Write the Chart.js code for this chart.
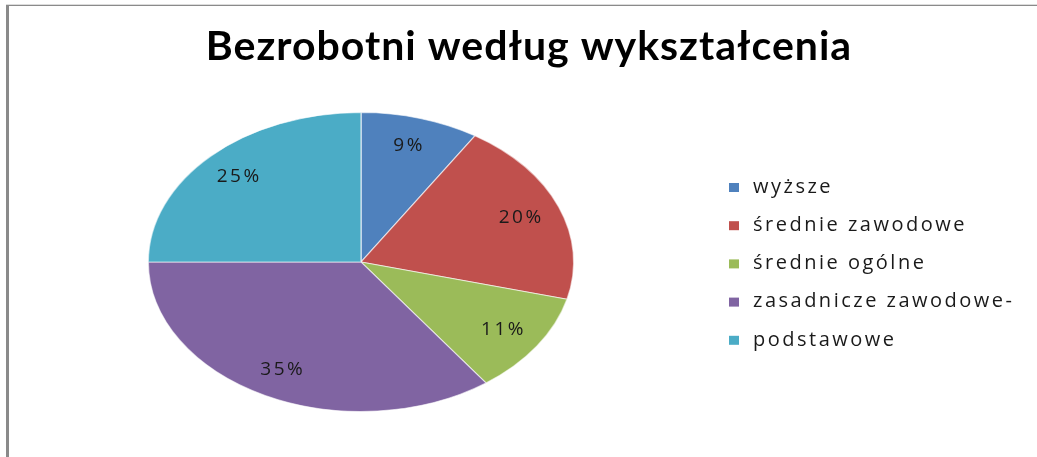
<!DOCTYPE html>
<html>
<head>
<meta charset="utf-8">
<script src="https://cdn.jsdelivr.net/npm/chart.js@4.4.0/dist/chart.umd.min.js"></script>
<style>
html,body{margin:0;padding:0;background:#fff;}
#wrap{position:relative;width:1037px;height:457px;}
canvas{display:block;}
</style>
</head>
<body>
<div id="wrap"><canvas id="c" width="1037" height="457"></canvas></div>
<script>
const title = 'Bezrobotni według wykształcenia';
const categories = ['wyższe', 'średnie zawodowe', 'średnie ogólne', 'zasadnicze zawodowe-', 'podstawowe'];
const values = [9, 20, 11, 35, 25];
const colors = ['#4f81bd', '#c0504d', '#9bbb59', '#8064a2', '#4bacc6'];

const SX = 1.423; // horizontal stretch of the pie (ellipse)

const ellipsePlugin = {
  id: 'ellipse',
  beforeDatasetsDraw(chart) {
    const meta = chart.getDatasetMeta(0);
    const a = meta.data[0];
    const ctx = chart.ctx;
    ctx.save();
    ctx.translate(a.x, a.y);
    ctx.scale(SX, 1);
    ctx.translate(-a.x, -a.y);
  },
  afterDatasetsDraw(chart) {
    const ctx = chart.ctx;
    ctx.restore();
    const meta = chart.getDatasetMeta(0);
    const total = values.reduce((s, v) => s + v, 0);
    ctx.save();
    ctx.font = '19px "Open Sans", sans-serif';
    ctx.letterSpacing = '2.5px';
    ctx.fillStyle = '#1a1a1a';
    ctx.textAlign = 'center';
    ctx.textBaseline = 'middle';
    meta.data.forEach((arc, i) => {
      const mid = (arc.startAngle + arc.endAngle) / 2;
      const r = arc.outerRadius * 0.81;
      const x = arc.x + Math.cos(mid) * r * SX;
      const y = arc.y + Math.sin(mid) * r;
      const pct = Math.round(values[i] / total * 100) + '%';
      ctx.fillText(pct, x, y);
    });
    ctx.restore();
  },
  afterDraw(chart) {
    const ctx = chart.ctx;
    ctx.save();
    // frame
    ctx.fillStyle = '#dcdcdc';
    ctx.fillRect(6, 4, 1031, 1);
    ctx.fillStyle = '#8a8a8a';
    ctx.fillRect(6, 5, 1031, 1);
    ctx.fillRect(6, 5, 3, 452);
    // title
    ctx.font = 'bold 41px Lato, sans-serif';
    ctx.letterSpacing = '1px';
    ctx.fillStyle = '#000';
    ctx.textAlign = 'center';
    ctx.textBaseline = 'middle';
    ctx.fillText(title, 529, 47);
    // legend
    ctx.font = '20px "Open Sans", sans-serif';
    ctx.letterSpacing = '2.5px';
    ctx.textAlign = 'left';
    categories.forEach((c, i) => {
      const y = 187 + i * 38.2;
      ctx.fillStyle = colors[i];
      ctx.fillRect(729, y - 4, 10, 9);
      ctx.fillStyle = '#1a1a1a';
      ctx.fillText(c, 753, y);
    });
    ctx.restore();
  }
};

new Chart(document.getElementById('c'), {
  type: 'pie',
  data: {
    labels: categories,
    datasets: [{
      data: values,
      backgroundColor: colors,
      borderColor: 'rgba(255,255,255,0.6)',
      borderWidth: 1
    }]
  },
  options: {
    responsive: false,
    animation: false,
    events: [],
    layout: { padding: { left: 211, right: 526, top: 112, bottom: 45 } },
    plugins: {
      legend: { display: false },
      title: { display: false },
      tooltip: { enabled: false }
    }
  },
  plugins: [ellipsePlugin]
});
</script>
</body>
</html>
